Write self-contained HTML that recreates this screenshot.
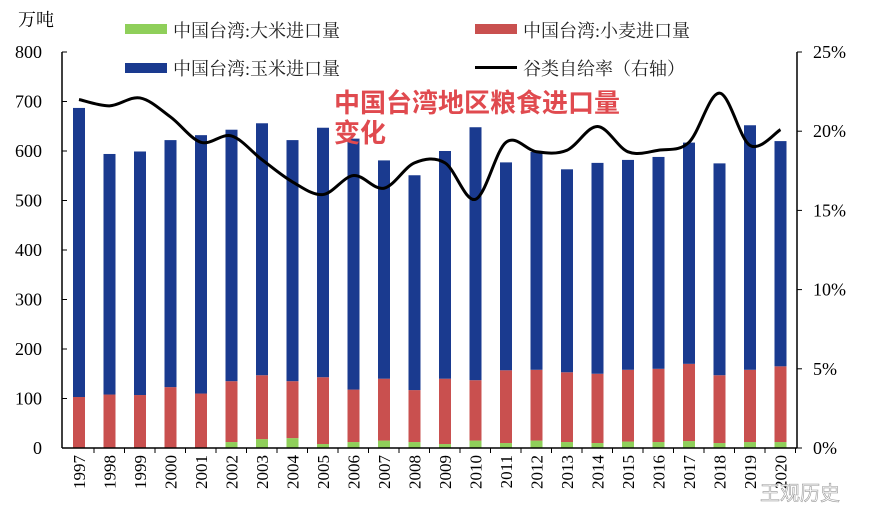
<!DOCTYPE html>
<html><head><meta charset="utf-8"><style>
body{margin:0;background:#fff;}
svg text{font-family:"Liberation Serif","Noto Serif CJK SC",serif;}
</style></head><body>
<svg id="c" width="873" height="518" xmlns="http://www.w3.org/2000/svg">
<g id="bars"></g>
<g id="axes"></g>
<path id="line" fill="none" stroke="#000" stroke-width="3"/>
<text x="18" y="26" font-size="18">万吨</text>
<g font-size="18" fill="#222">
<rect x="125" y="24" width="42" height="10" fill="#8fcf5a"/>
<text x="173" y="37">中国台湾:大米进口量</text>
<rect x="475" y="24" width="42" height="10" fill="#c9504f"/>
<text x="523" y="37">中国台湾:小麦进口量</text>
<rect x="125" y="63" width="42" height="10" fill="#1a3a8f"/>
<text x="173" y="75">中国台湾:玉米进口量</text>
<rect x="475" y="66" width="42" height="3" fill="#000"/>
<text x="523" y="75">谷类自给率（右轴）</text>
</g>
<g font-size="26" font-weight="bold" fill="#e04a4f">
<text x="334" y="112" style="font-family:'Liberation Sans','Noto Sans CJK SC',sans-serif">中国台湾地区粮食进口量</text>
<text x="334" y="142" style="font-family:'Liberation Sans','Noto Sans CJK SC',sans-serif">变化</text>
</g>
<text x="760" y="500" font-size="20" fill="#fff" stroke="#999" stroke-width="0.6" style="font-family:'Liberation Sans','Noto Sans CJK SC',sans-serif">王观历史</text>
</svg>
<script>
const years=[1997,1998,1999,2000,2001,2002,2003,2004,2005,2006,2007,2008,2009,2010,2011,2012,2013,2014,2015,2016,2017,2018,2019,2020];
const rice=[0,0,0,0,0,12,18,20,8,12,15,12,8,15,10,15,12,10,13,12,14,10,12,12];
const wheat=[103,108,107,123,110,123,129,115,135,106,125,105,132,122,147,143,141,140,145,148,156,137,146,153];
const corn=[584,486,492,499,522,508,509,487,504,507,441,434,460,511,420,440,410,426,424,428,447,428,494,455];
const ratio=[22.0,21.6,22.1,20.9,19.3,19.7,18.2,16.8,16.0,17.2,16.4,18.0,18.0,15.7,19.3,18.7,18.8,20.3,18.7,18.8,19.3,22.4,19.1,20.1];
const leftTicks=[0,100,200,300,400,500,600,700,800];
const rightTicks=[0,5,10,15,20,25];
const NS='http://www.w3.org/2000/svg';
const X0=62,X1=797,Y0=448,Y1=52;
const xs=i=>79+i*30.5;
const yl=v=>Y0-(v/800)*(Y0-Y1);
const yr=v=>Y0-(v/25)*(Y0-Y1);
function mk(t,a,p){const e=document.createElementNS(NS,t);for(const k in a)e.setAttribute(k,a[k]);p.appendChild(e);return e;}
const bars=document.getElementById('bars'),axes=document.getElementById('axes');
years.forEach((y,i)=>{
  const w=12,x=xs(i)-w/2;let b=0;
  [[rice,'#8fcf5a','rice'],[wheat,'#c9504f','wheat'],[corn,'#1a3a8f','corn']].forEach(([arr,c,n])=>{
    const v=arr[i];
    const r=mk('rect',{x:x,y:yl(b+v),width:w,height:yl(b)-yl(b+v),fill:c},bars);
    
    
    b+=v;
  });
  const t=mk('text',{transform:`translate(${xs(i)+6},${455}) rotate(-90)`,'font-size':17,'text-anchor':'end'},axes);
  t.textContent=y;
  
  
  mk('line',{x1:xs(i)+15,x2:xs(i)+15,y1:Y0,y2:Y0+5,stroke:'#000'},axes);
});
mk('line',{x1:X0,x2:X0,y1:Y1,y2:Y0,stroke:'#000','stroke-width':1.5},axes);
mk('line',{x1:X1,x2:X1,y1:Y1,y2:Y0,stroke:'#000','stroke-width':1.5},axes);
mk('line',{x1:X0,x2:X1,y1:Y0,y2:Y0,stroke:'#000','stroke-width':1.5},axes);
leftTicks.forEach(v=>{
  mk('line',{x1:X0,x2:X0+5,y1:yl(v),y2:yl(v),stroke:'#000'},axes);
  const t=mk('text',{x:X0-20,y:yl(v)+6,'font-size':18,'text-anchor':'end'},axes);
  t.textContent=v;
  
  
});
rightTicks.forEach(v=>{
  mk('line',{x1:X1,x2:X1+5,y1:yr(v),y2:yr(v),stroke:'#000'},axes);
  const t=mk('text',{x:X1+16,y:yr(v)+6,'font-size':18},axes);
  t.textContent=v+'%';
  
  
});
const pts=ratio.map((v,i)=>[xs(i),yr(v)]);
let d='M'+pts[0][0]+','+pts[0][1];
for(let i=0;i<pts.length-1;i++){
  const p0=pts[Math.max(0,i-1)],p1=pts[i],p2=pts[i+1],p3=pts[Math.min(pts.length-1,i+2)];
  const c1=[p1[0]+(p2[0]-p0[0])/6,p1[1]+(p2[1]-p0[1])/6],c2=[p2[0]-(p3[0]-p1[0])/6,p2[1]-(p3[1]-p1[1])/6];
  d+=`C${c1[0]},${c1[1]} ${c2[0]},${c2[1]} ${p2[0]},${p2[1]}`;
}
document.getElementById('line').setAttribute('d',d);
</script>
</body></html>
